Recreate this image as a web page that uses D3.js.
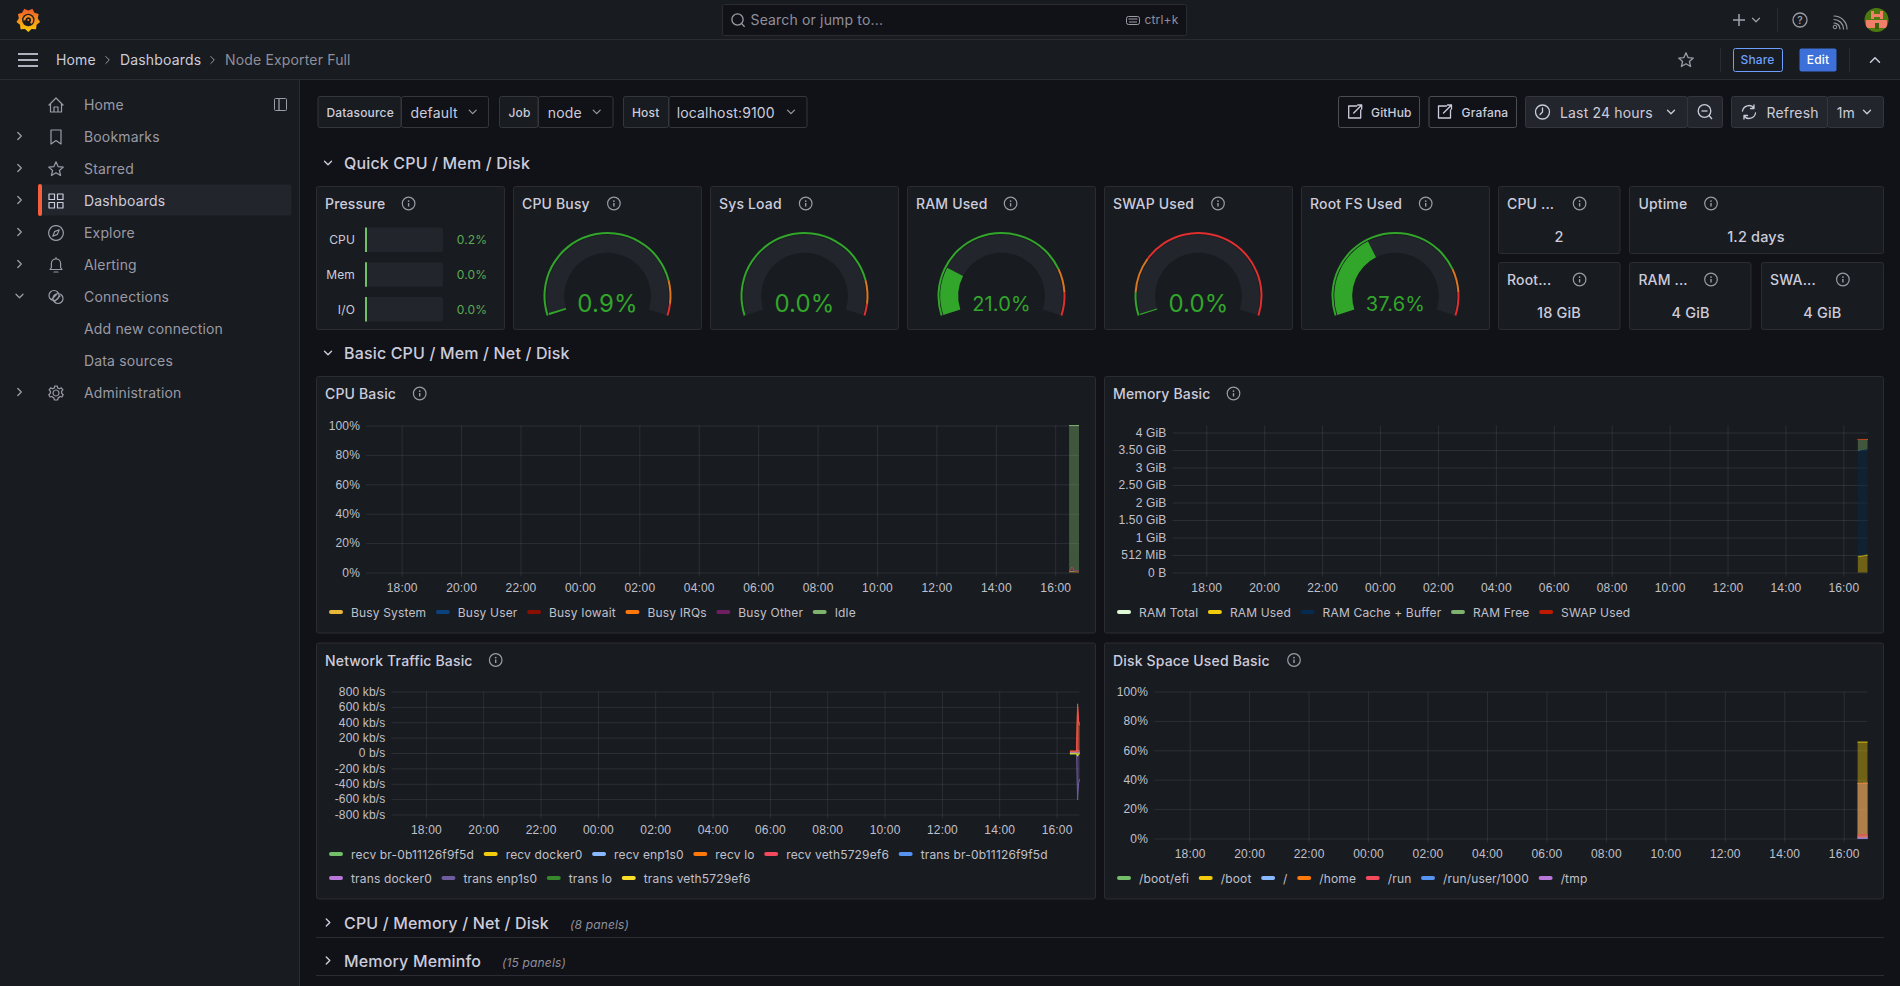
<!DOCTYPE html>
<html><head><meta charset="utf-8">
<script src="https://cdn.jsdelivr.net/npm/d3@7"></script>
<style>
html,body{margin:0;padding:0;background:#111217;overflow:hidden}
svg{display:block;font-family:Inter,"Noto Sans",sans-serif;letter-spacing:.01em}
text{fill:#ccccdc}
</style></head><body><svg id="c" width="1900" height="986"></svg>
<script>
// ---------- DATA ----------
const navItems=["Home","Bookmarks","Starred","Dashboards","Explore","Alerting","Connections","Add new connection","Data sources","Administration"];
const pressureLabels=["CPU","Mem","I/O"];
const pressureValues=[0.2,0.0,0.0];
const gaugeTitles=["CPU Busy","Sys Load","RAM Used","SWAP Used","Root FS Used"];
const gaugeValues=[0.9,0.0,21.0,0.04,37.6];
const gaugeThresholds=[[85,95],[85,95],[80,90],[10,25],[80,90]];
const statTitles=["CPU ...","Uptime","Root...","RAM ...","SWA..."];
const statValues=["2","1.2 days","18 GiB","4 GiB","4 GiB"];
const sampleMinutes=[-20,-18,-16,-14,-12,-10,-8,-6,-4,-2,0];

const cpuLegend=["Busy System","Busy User","Busy Iowait","Busy IRQs","Busy Other","Idle"];
const cpuColors=["#EAB839","#0A437C","#890F02","#FF780A","#6D1F62","#7EB26D"];
const cpuSystem=[0.6,0.7,0.7,0.9,0.7,0.6,0.7,0.6,0.5,0.6,0.5];
const cpuUser=[0.4,0.5,0.6,1.3,0.7,0.4,0.5,0.4,0.4,0.5,0.4];
const cpuIowait=[0.2,0.3,0.5,1.4,0.4,0.2,0.2,0.2,0.3,0.2,0.2];
const cpuIrqs=[0.05,0.05,0.06,0.1,0.05,0.05,0.05,0.05,0.05,0.05,0.05];
const cpuOther=[0.02,0.02,0.02,0.03,0.02,0.02,0.02,0.02,0.02,0.02,0.02];
const cpuIdle=[98.73,98.43,98.12,96.27,98.13,98.73,98.53,98.73,98.73,98.63,98.83];
const pctTicks=[0,20,40,60,80,100];

const memLegend=["RAM Total","RAM Used","RAM Cache + Buffer","RAM Free","SWAP Used"];
const memColors=["#E0F9D7","#F2CC0C","#052B51","#7EB26D","#BF1B00"];
const memTotal=[3.8,3.8,3.8,3.8,3.8,3.8,3.8,3.8,3.8,3.8,3.8];
const memUsed=[0.46,0.46,0.47,0.47,0.47,0.48,0.48,0.49,0.49,0.5,0.5];
const memCache=[3.01,3.01,3.01,3.02,3.02,3.02,3.02,3.02,3.02,3.02,3.02];
const memFree=[0.33,0.33,0.32,0.31,0.31,0.3,0.3,0.29,0.29,0.28,0.28];
const memSwap=[0.004,0.004,0.004,0.004,0.004,0.004,0.004,0.004,0.004,0.004,0.004];
const memTicks=[0,0.5,1,1.5,2,2.5,3,3.5,4];
const memTickLabels=["0 B","512 MiB","1 GiB","1.50 GiB","2 GiB","2.50 GiB","3 GiB","3.50 GiB","4 GiB"];

const netLegend=["recv br-0b11126f9f5d","recv docker0","recv enp1s0","recv lo","recv veth5729ef6","trans br-0b11126f9f5d","trans docker0","trans enp1s0","trans lo","trans veth5729ef6"];
const netColors=["#73BF69","#F2CC0C","#8AB8FF","#FF780A","#F2495C","#5794F2","#B877D9","#705DA0","#37872D","#FADE2A"];
const recvBr=[2,2,2,2,2,2,2,2,4,3,2];
const recvDocker=[1,1,1,1,1,1,1,1,2,1,1];
const recvEnp=[18,20,22,20,19,18,20,22,40,30,25];
const recvLo=[26,26,27,26,26,27,26,26,600,400,360];
const recvVeth=[20,20,22,20,20,20,20,22,640,420,385];
const transBr=[-2,-2,-2,-2,-2,-2,-2,-2,-4,-3,-2];
const transDocker=[-1,-1,-1,-1,-1,-1,-1,-1,-2,-1,-1];
const transEnp=[-12,-12,-14,-12,-12,-12,-12,-14,-610,-400,-340];
const transLo=[-20,-20,-21,-20,-20,-21,-20,-20,-21,-20,-20];
const transVeth=[-8,-8,-8,-8,-8,-8,-8,-8,-42,-12,-8];
const netSeries=[recvBr,recvDocker,recvEnp,recvLo,recvVeth,transBr,transDocker,transEnp,transLo,transVeth];
const netTicks=[-800,-600,-400,-200,0,200,400,600,800];
const netTickLabels=["-800 kb/s","-600 kb/s","-400 kb/s","-200 kb/s","0 b/s","200 kb/s","400 kb/s","600 kb/s","800 kb/s"];

const diskLegend=["/boot/efi","/boot","/","/home","/run","/run/user/1000","/tmp"];
const diskColors=["#73BF69","#F2CC0C","#8AB8FF","#FF780A","#F2495C","#5794F2","#B877D9"];
const diskBootEfi=[1.2,1.2,1.2,1.2,1.2,1.2,1.2,1.2,1.2,1.2,1.2];
const diskBoot=[65.6,65.6,65.6,65.6,65.6,65.6,65.6,65.6,65.6,65.6,65.6];
const diskRoot=[37.5,37.5,37.5,37.5,37.5,37.5,37.6,37.6,37.6,37.6,37.6];
const diskHome=[37.5,37.5,37.5,37.5,37.5,37.5,37.6,37.6,37.6,37.6,37.6];
const diskRun=[2.5,2.5,2.5,2.5,2.5,2.5,2.5,2.5,2.5,2.5,2.5];
const diskUser=[0.1,0.1,0.1,0.1,0.1,0.1,0.1,0.1,0.1,0.1,0.1];
const diskTmp=[0.4,0.4,0.4,0.4,0.4,0.4,0.4,0.4,0.4,0.4,0.4];
const diskSeries=[diskBootEfi,diskBoot,diskRoot,diskHome,diskRun,diskUser,diskTmp];

const collapsedRows=[["CPU / Memory / Net / Disk","(8 panels)"],["Memory Meminfo","(15 panels)"]];

// ---------- LAYOUT ----------
const PANEL="#181b1f",BORDER="#2a2c32",TXT="#ccccdc",DIM="#9c9ca8",GRID="rgba(204,214,235,0.11)",GREEN="#32a52b";
const svg=d3.select("#c");
const DAY=86400000,MIN=60000;
const timeEndBase=Date.UTC(2024,0,2,16,48);

function rect(g,x,y,w,h,fill,stroke,rx){return g.append("rect").attr("x",x+.5).attr("y",y+.5).attr("width",w-1).attr("height",h-1).attr("rx",rx==null?2:rx).attr("fill",fill).attr("stroke",stroke||"none")}
function text(g,x,y,s,size,o){o=o||{};return g.append("text").attr("x",x).attr("y",y).attr("dy",".36em").attr("font-size",size||14).attr("font-weight",o.w||400).attr("font-style",o.i?"italic":null).attr("text-anchor",o.a||"start").style("fill",o.c||TXT).text(s)}
function hline(g,x1,y1,x2,y2,c,w){g.append("line").attr("x1",x1).attr("y1",y1).attr("x2",x2).attr("y2",y2).attr("stroke",c).attr("stroke-width",w||1)}
function ipath(g,x,y,d,c,w,fill){return g.append("path").attr("transform",`translate(${x},${y})`).attr("d",d).attr("fill",fill||"none").attr("stroke",c||DIM).attr("stroke-width",w||1.4).attr("stroke-linecap","round").attr("stroke-linejoin","round")}
const chevDown="M-3.5,-1.8 L0,1.7 L3.5,-1.8",chevRight="M-1.7,-3.5 L1.8,0 L-1.7,3.5",chevUp="M-4.5,2.2 L0,-2.2 L4.5,2.2";
function info(g,x,y){g.append("circle").attr("cx",x).attr("cy",y).attr("r",6.3).attr("fill","none").attr("stroke",DIM).attr("stroke-width",1.2);
  g.append("circle").attr("cx",x).attr("cy",y-2.4).attr("r",.9).attr("fill",DIM);hline(g,x,y-.4,x,y+3,DIM,1.4)}
function panel(x,y,w,h,title,infoX,titleY){const g=svg.append("g");rect(g,x,y,w,h,PANEL,BORDER);
  text(g,x+9,titleY+.2,title,14,{w:500});info(g,infoX,titleY-.5);return g}

// ---------- CHROME ----------
const topBar=svg.append("g");
topBar.append("rect").attr("width",1900).attr("height",80).attr("fill",PANEL);
hline(topBar,0,39.5,1900,39.5,BORDER);hline(topBar,0,79.5,1900,79.5,BORDER);
const side=svg.append("g");
side.append("rect").attr("y",80).attr("width",299.5).attr("height",906).attr("fill",PANEL);
hline(side,299.5,80,299.5,986,BORDER);

// logo
const defs=svg.append("defs");
const lg=defs.append("linearGradient").attr("id","lg").attr("x1",0).attr("y1",1).attr("x2",0).attr("y2",0);
lg.append("stop").attr("offset",0).attr("stop-color","#FBCA0A");lg.append("stop").attr("offset",1).attr("stop-color","#F05A28");
const logo=topBar.append("g").attr("transform","translate(28.3,20)");
const spikes=d3.range(18).map(i=>{const a=i/18*2*Math.PI,r=i%2?12:9.6;return [r*Math.sin(a),-r*Math.cos(a)]});
logo.append("polygon").attr("points",spikes.map(p=>p.join(",")).join(" ")).attr("fill","url(#lg)");
logo.append("circle").attr("r",6.2).attr("fill",PANEL);
logo.append("path").attr("d","M-3.9,0.4 A3.9,3.9 0 1 1 2.4,3.2").attr("fill","none").attr("stroke","#F68A1F").attr("stroke-width",2.2);
logo.append("circle").attr("r",1).attr("fill","#F68A1F");

// search
rect(topBar,722,4,465,32,"#111217",BORDER);
topBar.append("circle").attr("cx",737.5).attr("cy",19.5).attr("r",5.6).attr("fill","none").attr("stroke",DIM).attr("stroke-width",1.3);
hline(topBar,741.6,23.6,744.6,26.8,DIM,1.3);
text(topBar,750.5,20,"Search or jump to...",14,{c:"#8f8f9b"});
rect(topBar,1126,16,14,9,"none",DIM,2);hline(topBar,1128.5,19,1137.5,19,DIM,1);hline(topBar,1129,22,1137,22,DIM,1);
text(topBar,1144.5,20,"ctrl+k",12,{c:"#8f8f9b"});

// top right
hline(topBar,1733,20,1745,20,DIM,1.6);hline(topBar,1739,14,1739,26,DIM,1.6);
ipath(topBar,1756,20,chevDown,DIM,1.3);hline(topBar,1777.5,8,1777.5,32,BORDER);
topBar.append("circle").attr("cx",1800).attr("cy",20).attr("r",7).attr("fill","none").attr("stroke",DIM).attr("stroke-width",1.3);
text(topBar,1800,20,"?",10,{a:"middle",c:DIM,w:600});
ipath(topBar,1835,24,"M-1,-1 A6,6 0 0 1 5,5 M-1,-4.5 A9.5,9.5 0 0 1 8.5,5 M-1,-8 A13,13 0 0 1 12,5",DIM,1.2);
topBar.append("circle").attr("cx",1835).attr("cy",27).attr("r",1.8).attr("fill","none").attr("stroke",DIM);
// avatar
defs.append("clipPath").attr("id","av").append("circle").attr("cx",1876.5).attr("cy",20).attr("r",12);
const av=topBar.append("g").attr("clip-path","url(#av)");
av.append("rect").attr("x",1864).attr("y",8).attr("width",25).attr("height",24).attr("fill","#4d7a0f");
av.append("rect").attr("x",1866).attr("y",20).attr("width",21).attr("height",8).attr("fill","#ef7f68");
av.append("rect").attr("x",1871).attr("y",11).attr("width",3).attr("height",8).attr("fill","#ef7f68");
av.append("rect").attr("x",1880).attr("y",11).attr("width",3).attr("height",8).attr("fill","#ef7f68");
av.append("rect").attr("x",1873).attr("y",14).attr("width",8).attr("height",3).attr("fill","#ef7f68");
av.append("rect").attr("x",1875).attr("y",23).attr("width",4).attr("height",6).attr("fill","#3d5f0c");

// breadcrumb
[54,60,66].forEach(y=>hline(topBar,18,y,38,y,TXT,1.7));
text(topBar,56,60,"Home",14);ipath(topBar,107.5,60,chevRight,DIM,1);
text(topBar,120,60,"Dashboards",14);ipath(topBar,212.5,60,chevRight,DIM,1);
text(topBar,225,60,"Node Exporter Full",14,{c:"#8f8f9b"});
const star5="M0,-7.2 L2.2,-2.3 L7.3,-1.9 L3.4,1.5 L4.6,6.5 L0,3.8 L-4.6,6.5 L-3.4,1.5 L-7.3,-1.9 L-2.2,-2.3 Z";
ipath(topBar,1686,60,star5,DIM,1.3);
hline(topBar,1720.5,48,1720.5,72,BORDER);
rect(topBar,1733,48,50,24,"none","#6e9fff",2);text(topBar,1757.5,60,"Share",12,{a:"middle",c:"#6e9fff",w:500});
rect(topBar,1799,48,38,24,"#3d71d9","none",2);text(topBar,1818,60,"Edit",12,{a:"middle",c:"#fff",w:500});
hline(topBar,1849.5,48,1849.5,72,BORDER);ipath(topBar,1875,60,chevUp,TXT,1.5);

// sidebar
rect(side,38,184,254,32,"#22252b","none",2);
side.append("rect").attr("x",38).attr("y",184).attr("width",4).attr("height",32).attr("rx",2).attr("fill","#F55F3E");
const navIcons=[
 "M-7,0 L0,-7 L7,0 M-5.5,-1 V7 H5.5 V-1 M-2,7 V2 H2 V7",
 "M-5,-7 H5 V7 L0,3.5 L-5,7 Z",
 star5,
 "M-7,-7 H-1.5 V-1.5 H-7 Z M1.5,-7 H7 V-1.5 H1.5 Z M-7,1.5 H-1.5 V7 H-7 Z M1.5,1.5 H7 V7 H1.5 Z",
 "M0,-7.3 A7.3,7.3 0 1 1 -0.01,-7.3 M3.2,-3.2 L1.4,1.4 L-3.2,3.2 L-1.4,-1.4 Z",
 "M-6,4.5 H6 L4.6,2.5 V-1.5 A4.6,4.6 0 0 0 -4.6,-1.5 V2.5 Z M-2,7 H2 M0,-6 V-7.3",
 "M-7,-1.5 a5,5 0 1,0 10,0 a5,5 0 1,0 -10,0 M-3,1.5 a5,5 0 1,0 10,0 a5,5 0 1,0 -10,0 M-4,2 L1,-3 M-1,4 L4,-1",null,null,
 "M0,-3 A3,3 0 1 1 -0.01,-3 M-1.2,-7 H1.2 L1.7,-5 L3.6,-4.2 L5.3,-5.2 L6.9,-3.2 L5.5,-1.6 L5.8,0.5 L7.2,1.8 L6,4 L4,3.5 L2.2,5 L1.5,7 H-1.5 L-2.2,5 L-4,3.5 L-6,4 L-7.2,1.8 L-5.8,.5 L-5.5,-1.6 L-6.9,-3.2 L-5.3,-5.2 L-3.6,-4.2 L-1.7,-5 Z"];
const navChev=[null,chevRight,chevRight,chevRight,chevRight,chevRight,chevDown,null,null,chevRight];
navItems.forEach((n,i)=>{const y=105+i*32;
  if(navIcons[i])ipath(side,56,y,navIcons[i],n==="Dashboards"?TXT:DIM,1.2);
  if(navChev[i])ipath(side,19.5,y-(i?1:0),navChev[i],DIM,1.3);
  text(side,84,y,n,14,{c:n==="Dashboards"?TXT:"#9a9aa6"});});
const dock=side.append("g");rect(dock,274,98,13,13,"none",DIM,1);hline(dock,279,98,279,111,DIM,1.3);

// controls
const ctl=svg.append("g");
function seg(x,w,label,fill,size,tx,wt){rect(ctl,x,96,w,32,fill,"#34363c");text(ctl,tx,112.8,label,size,{w:wt||400})}
seg(317.5,84,"Datasource",PANEL,12,326.5,500);seg(401,88,"default","#111217",14,410.5);ipath(ctl,472.7,112,chevDown,DIM,1.2);
seg(499,39.5,"Job",PANEL,12,508.5,500);seg(538,75.5,"node","#111217",14,547.8);ipath(ctl,596.7,112,chevDown,DIM,1.2);
seg(623,46,"Host",PANEL,12,632,500);seg(668.5,139,"localhost:9100","#111217",14,676.7);ipath(ctl,791,112,chevDown,DIM,1.2);
const extIcon="M2,-6 H-6 V6 H6 V-2 M-1,1 L7,-7 M3,-7 H7 V-3";
rect(ctl,1338,96,82,32,"#111217","#4c4d54");ipath(ctl,1354.7,112,extIcon,TXT,1.3);text(ctl,1371,112.8,"GitHub",12,{w:500});
rect(ctl,1428.5,96,88.5,32,"#111217","#4c4d54");ipath(ctl,1444.5,112,extIcon,TXT,1.3);text(ctl,1461.6,112.8,"Grafana",12,{w:500});
rect(ctl,1525,96,163,32,"#22252b","#34363c");rect(ctl,1687,96,36,32,"#22252b","#34363c");
ctl.append("circle").attr("cx",1542.5).attr("cy",112).attr("r",7).attr("fill","none").attr("stroke",TXT).attr("stroke-width",1.3);
ipath(ctl,1542.5,112,"M0,-4 V0 L-2.5,2.5",TXT,1.3);
text(ctl,1560,112.8,"Last 24 hours",14);ipath(ctl,1671,112,chevDown,TXT,1.3);
ctl.append("circle").attr("cx",1704.5).attr("cy",111).attr("r",6.3).attr("fill","none").attr("stroke",TXT).attr("stroke-width",1.3);
hline(ctl,1701.5,111,1707.5,111,TXT,1.3);hline(ctl,1709,115.5,1712,119,TXT,1.3);
rect(ctl,1731,96,97,32,"#22252b","#34363c");rect(ctl,1827,96,57,32,"#22252b","#34363c");
ipath(ctl,1749,112,"M-6.5,-1 A6.5,6.5 0 0 1 5,-4 M5,-7 V-3.5 H1.5 M6.5,1 A6.5,6.5 0 0 1 -5,4 M-5,7 V3.5 H-1.5",TXT,1.3);
text(ctl,1766.5,112.8,"Refresh",14);text(ctl,1836.7,112.8,"1m",14);ipath(ctl,1867,112,chevDown,TXT,1.3);

// row headers
const rowsG=svg.append("g");
ipath(rowsG,328,163,chevDown,TXT,1.4);text(rowsG,344,163.4,"Quick CPU / Mem / Disk",16,{w:500});
ipath(rowsG,328,353,chevDown,TXT,1.4);text(rowsG,344,353.4,"Basic CPU / Mem / Net / Disk",16,{w:500});
[[922.5,937.5,570],[960.5,975.5,502]].forEach((r,i)=>{
  ipath(rowsG,328,r[0],chevRight,TXT,1.4);
  text(rowsG,344,r[0]+.9,collapsedRows[i][0],16,{w:500});
  text(rowsG,r[2],r[0]+1.8,collapsedRows[i][1],12,{i:true,c:"#8f8f9b"});
  hline(rowsG,316,r[1],1884,r[1],BORDER);});

// ---------- PRESSURE ----------
const pg=panel(316,186,189,144,"Pressure",408.6,204);
const barX=d3.scaleLinear().domain([0,100]).range([0,78]);
const barY=d3.scalePoint().domain(pressureLabels).range([239.5,309]);
pressureLabels.forEach((l,i)=>{const y=barY(l);
  text(pg,355,y+.2,l,12,{a:"end"});
  pg.append("rect").attr("x",365).attr("y",y-12).attr("width",barX(100)).attr("height",24.5).attr("rx",2).attr("fill","#22252b");
  pg.append("rect").attr("x",365).attr("y",y-12).attr("width",Math.max(2,barX(pressureValues[i]))).attr("height",24.5).attr("fill","#73BF69");
  text(pg,472,y+.2,d3.format(".1f")(pressureValues[i])+"%",12,{a:"middle",c:"#5dab54"});});

// ---------- GAUGES ----------
const gaugeBoxes=[[513,189,613.9],[710,189,805.7],[907,189,1010.6],[1104,189,1218],[1301,189,1425.7]];
const angle=d3.scaleLinear().domain([0,100]).range([-108*Math.PI/180,108*Math.PI/180]);
const arcMain=d3.arc().innerRadius(43.3).outerRadius(61.2);
const arcRing=d3.arc().innerRadius(62).outerRadius(64);
gaugeTitles.forEach((t,i)=>{const b=gaugeBoxes[i],g=panel(b[0],186,b[1],144,t,b[2],204);
  const cx=b[0]+b[1]/2,cg=g.append("g").attr("transform",`translate(${cx},296)`);
  const th=gaugeThresholds[i];
  cg.append("path").attr("d",arcMain({startAngle:angle(0),endAngle:angle(100)})).attr("fill","#22252b");
  [[0,th[0],GREEN],[th[0],th[1],"#d9761f"],[th[1],100,"#e02f2f"]].forEach(s=>
    cg.append("path").attr("d",arcRing({startAngle:angle(s[0]),endAngle:angle(s[1])})).attr("fill",s[2]));
  const v=gaugeValues[i];
  if(v>0)cg.append("path").attr("d",arcMain({startAngle:angle(0),endAngle:Math.max(angle(v),angle(0)+0.02)})).attr("fill",GREEN);
  const big=v<10;
  text(g,cx,303.3,d3.format(".1f")(v)+"%",big?24:20,{a:"middle",c:GREEN});
});

// ---------- STATS ----------
const statBoxes=[[1498,186,122.5,68,1579.6,1507,1559],[1629,186,255,68,1711,1638.4,1756],[1498,262,122.5,68,1579.6,1507,1559],[1629,262,122.5,68,1711,1638.4,1690.6],[1761,262,123,68,1842.9,1770,1822.4]];
statTitles.forEach((t,i)=>{const b=statBoxes[i],g=svg.append("g"),ty=b[1]+18;
  rect(g,b[0],b[1],b[2],b[3],PANEL,BORDER);
  text(g,b[5],ty,t,14,{w:500});info(g,b[4],ty-.5);
  text(g,b[6],b[1]+51,statValues[i],14.5,{a:"middle",w:500});});

// ---------- TIME SERIES ----------
function legend(g,x,rowsList,names,colors){
  rowsList.forEach(row=>{let cx=x;row.idx.forEach(i=>{
    g.append("rect").attr("x",cx).attr("y",row.y-2).attr("width",14).attr("height",4).attr("rx",2).attr("fill",colors[i]);
    const t=text(g,cx+22,row.y+.8,names[i],12,{c:"#c0c0cc"});
    cx+=22+t.node().getComputedTextLength()+9.6;});});
}
function chart(box,title,infoX,plot,yDomain,yTicks,yLabels,endShift){
  const g=panel(box[0],box[1],box[2],box[3],title,infoX,box[1]+18);
  const tEnd=timeEndBase+(endShift||0)*MIN,tStart=tEnd-DAY;
  const x=d3.scaleUtc().domain([tStart,tEnd]).range([plot.l,plot.r]);
  const y=d3.scaleLinear().domain(yDomain).range([plot.b,plot.t]);
  const gy=g.append("g").attr("transform",`translate(${plot.l},0)`).call(d3.axisLeft(y).tickValues(yTicks).tickSizeInner(-(plot.r-plot.l)).tickSizeOuter(0).tickPadding(6).tickFormat((d,i)=>yLabels[i]));
  const gx=g.append("g").attr("transform",`translate(0,${plot.b+4})`).call(d3.axisBottom(x).ticks(d3.utcHour.every(2)).tickFormat(d3.utcFormat("%H:%M")).tickSizeInner(-(plot.b-plot.t+4)).tickSizeOuter(0).tickPadding(6.5));
  [gx,gy].forEach(a=>{a.select(".domain").remove();a.selectAll("line").attr("stroke",GRID);
    a.selectAll("text").attr("font-size",12).attr("font-family",null).style("fill","#c0c0cc");});
  gx.selectAll(".tick").filter(d=>+d<=tStart).remove();
  return {g,x,y,times:sampleMinutes.map(m=>new Date(tEnd+m*MIN))};
}
function drawStack(c,keys,cols,arrays){
  const rowsT=c.times.map((t,i)=>{const o={t};keys.forEach((k,j)=>o[k]=arrays[j][i]);return o});
  const st=d3.stack().keys(keys)(rowsT);
  const ar=d3.area().x(d=>c.x(d.data.t)).y0(d=>c.y(d[0])).y1(d=>c.y(d[1]));
  const ln=d3.line().x(d=>c.x(d.data.t)).y(d=>c.y(d[1]));
  st.forEach((s,j)=>{c.g.append("path").attr("d",ar(s)).attr("fill",cols[j]).attr("fill-opacity",.4);
    c.g.append("path").attr("d",ln(s)).attr("fill","none").attr("stroke",cols[j]).attr("stroke-width",1);});
}
function drawOverlay(c,cols,arrays){
  const ar=d3.area().x((d,i)=>c.x(c.times[i])).y0(c.y(0)).y1(d=>c.y(d));
  const ln=d3.line().x((d,i)=>c.x(c.times[i])).y(d=>c.y(d));
  arrays.forEach((a,j)=>{c.g.append("path").attr("d",ar(a)).attr("fill",cols[j]).attr("fill-opacity",.4);
    c.g.append("path").attr("d",ln(a)).attr("fill","none").attr("stroke",cols[j]).attr("stroke-width",1);});
}

// CPU Basic
const cCpu=chart([316,376,780,257.5],"CPU Basic",419.7,{l:366,r:1079,t:425.5,b:572.5},[0,100],pctTicks,pctTicks.map(d=>d+"%"));
drawStack(cCpu,cpuLegend,cpuColors,[cpuSystem,cpuUser,cpuIowait,cpuIrqs,cpuOther,cpuIdle]);
legend(cCpu.g,329,[{y:611.9,idx:d3.range(6)}],cpuLegend,cpuColors);

// Memory Basic
const cMem=chart([1104,376,780,257.5],"Memory Basic",1233.5,{l:1172.5,r:1867.5,t:425.5,b:572.5},[0,4.2],memTicks,memTickLabels,2);
cMem.g.append("path").attr("d",d3.line().x((d,i)=>cMem.x(cMem.times[i])).y(d=>cMem.y(d))(memTotal)).attr("fill","none").attr("stroke",memColors[0]);
drawStack(cMem,memLegend.slice(1),memColors.slice(1),[memUsed,memCache,memFree,memSwap]);
legend(cMem.g,1117,[{y:611.9,idx:d3.range(5)}],memLegend,memColors);

// Network Traffic Basic
const cNet=chart([316,642.5,780,257],"Network Traffic Basic",495.7,{l:391.5,r:1079.5,t:691.5,b:814.5},[-800,800],netTicks,netTickLabels);
drawOverlay(cNet,netColors,netSeries);
legend(cNet.g,329,[{y:853.9,idx:d3.range(6)},{y:877.9,idx:d3.range(6,10)}],netLegend,netColors);

// Disk Space Used Basic
const cDisk=chart([1104,642.5,780,257],"Disk Space Used Basic",1294,{l:1154,r:1867.5,t:691.5,b:838.5},[0,100],pctTicks,pctTicks.map(d=>d+"%"));
drawOverlay(cDisk,diskColors,diskSeries);
legend(cDisk.g,1117,[{y:877.9,idx:d3.range(7)}],diskLegend,diskColors);
</script></body></html>
